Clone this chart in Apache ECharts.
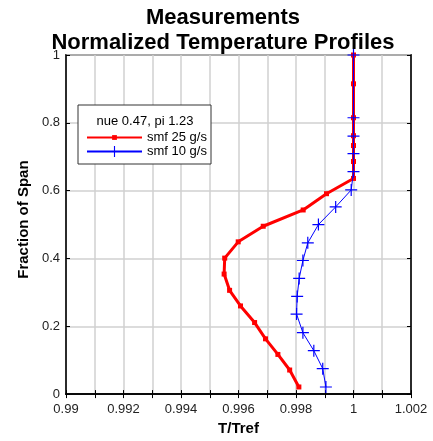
<!DOCTYPE html>
<html>
<head>
<meta charset="utf-8">
<script src="https://cdn.jsdelivr.net/npm/echarts@6/dist/echarts.min.js"></script>
<style>
  html, body { margin: 0; padding: 0; background: #fff; }
  #chart { width: 433px; height: 441px; }
</style>
</head>
<body>
<div id="chart"></div>
<script>
// 数据
var redName = 'smf 25 g/s'
var redX = [0.99810, 0.99778, 0.99737, 0.99694, 0.99656, 0.99607, 0.99569, 0.99550, 0.99552, 0.99599, 0.99686, 0.99825, 0.99906, 1.0, 1.0, 1.0, 1.0, 1.0, 1.0, 1.0]
var redY = [0.021, 0.071, 0.117, 0.163, 0.211, 0.260, 0.306, 0.354, 0.401, 0.449, 0.495, 0.543, 0.591, 0.636, 0.686, 0.733, 0.762, 0.815, 0.915, 1.0]

var blueName = 'smf 10 g/s'
var blueX = [0.99904, 0.99893, 0.99862, 0.99824, 0.99802, 0.99804, 0.99811, 0.99824, 0.99841, 0.99878, 0.99938, 0.99992, 1.0, 1.0, 1.0, 1.0, 1.0]
var blueY = [0.021, 0.075, 0.128, 0.181, 0.236, 0.288, 0.341, 0.394, 0.446, 0.500, 0.552, 0.602, 0.656, 0.709, 0.761, 0.815, 1.0]

var xMin = 0.99, xMax = 1.002, xStep = 0.001
var yMin = 0, yMax = 1, yStep = 0.2
var legendTitle = 'nue 0.47, pi 1.23'

var zip = function (xs, ys) {
  return xs.map(function (x, i) { return [x, ys[i]] })
}

var font = 'Liberation Sans, Arial, sans-serif'
var plus = 'path://M0,4.5H10V5.5H0Z M4.5,0H5.5V10H4.5Z'

var myChart = echarts.init(document.getElementById('chart'))

var xLabel = function (v) {
  var k = Math.round((v - xMin) / xStep)
  if (k % 2 !== 0) return ''
  return String(parseFloat(v.toFixed(3)))
}

var legendText = { fontFamily: font, fontSize: 13, color: '#000' }

var option = {
  animation: false,
  backgroundColor: '#fff',
  title: {
    text: 'Measurements\nNormalized Temperature Profiles',
    left: 223,
    top: 5,
    textAlign: 'center',
    padding: 0,
    textStyle: { fontFamily: font, fontSize: 22, fontWeight: 'bold', color: '#000', lineHeight: 25 }
  },
  grid: {
    left: 66, right: 22, top: 55, bottom: 43,
    show: true, borderColor: '#000', borderWidth: 1.5
  },
  graphic: [
    {
      type: 'rect',
      shape: { x: 78, y: 105, width: 133, height: 59 },
      style: { fill: '#fff', stroke: '#333', lineWidth: 1 },
      z: 50
    },
    {
      type: 'text',
      x: 145, y: 121,
      style: { text: legendTitle, font: '13px ' + font, fill: '#000', align: 'center', verticalAlign: 'middle' },
      z: 51
    }
  ],
  // 两个图例: 方块小, 十字大
  legend: [
    {
      data: [redName],
      left: 86, top: 131,
      padding: 0,
      itemWidth: 55, itemHeight: 6,
      z: 60,
      textStyle: legendText
    },
    {
      data: [blueName],
      left: 86, top: 145,
      padding: 0,
      itemWidth: 55, itemHeight: 14,
      z: 60,
      textStyle: legendText
    }
  ],
  xAxis: [
    {
      type: 'value',
      min: xMin, max: xMax, interval: xStep,
      name: 'T/Tref',
      nameLocation: 'middle',
      nameGap: 20,
      nameTextStyle: { fontFamily: font, fontSize: 15, fontWeight: 'bold', color: '#000' },
      axisLine: { show: true, lineStyle: { color: '#000', width: 1.5 } },
      axisTick: { show: true, inside: true, length: 4, lineStyle: { color: '#000' } },
      axisLabel: { formatter: xLabel, fontFamily: font, fontSize: 13, color: '#222', margin: 9, showMinLabel: true, showMaxLabel: true },
      splitLine: { show: true, lineStyle: { color: '#d0d0d0', width: 1.5 } }
    },
    {
      type: 'value', position: 'top',
      min: xMin, max: xMax, interval: xStep,
      axisLine: { show: true, lineStyle: { color: '#000', width: 1.5 } },
      axisTick: { show: true, inside: true, length: 4, lineStyle: { color: '#000' } },
      axisLabel: { show: false },
      splitLine: { show: false }
    }
  ],
  yAxis: [
    {
      type: 'value',
      min: yMin, max: yMax, interval: yStep,
      name: 'Fraction of Span',
      nameLocation: 'middle',
      nameGap: 27,
      nameTextStyle: { fontFamily: font, fontSize: 15, fontWeight: 'bold', color: '#000', padding: [0, 0, 0, 10] },
      axisLine: { show: true, lineStyle: { color: '#000', width: 1.5 } },
      axisTick: { show: true, inside: true, length: 4, lineStyle: { color: '#000' } },
      axisLabel: {
        formatter: function (v) { return String(parseFloat(v.toFixed(1))) },
        fontFamily: font, fontSize: 13, color: '#222', margin: 6
      },
      splitLine: { show: true, lineStyle: { color: '#d0d0d0', width: 1.5 } }
    },
    {
      type: 'value', position: 'right',
      min: yMin, max: yMax, interval: yStep,
      axisLine: { show: true, lineStyle: { color: '#000', width: 1.5 } },
      axisTick: { show: true, inside: true, length: 4, lineStyle: { color: '#000' } },
      axisLabel: { show: false },
      splitLine: { show: false }
    }
  ],
  series: [
    {
      name: redName,
      type: 'line',
      data: zip(redX, redY),
      symbol: 'rect',
      symbolSize: 5,
      showAllSymbol: true,
      lineStyle: { color: '#ff0000', width: 3 },
      itemStyle: { color: '#ff0000' },
      z: 2
    },
    {
      name: blueName,
      type: 'line',
      data: zip(blueX, blueY),
      symbol: plus,
      symbolSize: 12,
      showAllSymbol: true,
      lineStyle: { color: '#0000ff', width: 1 },
      itemStyle: { color: '#0000ff' },
      z: 3
    }
  ]
}

myChart.setOption(option)
</script>
</body>
</html>
